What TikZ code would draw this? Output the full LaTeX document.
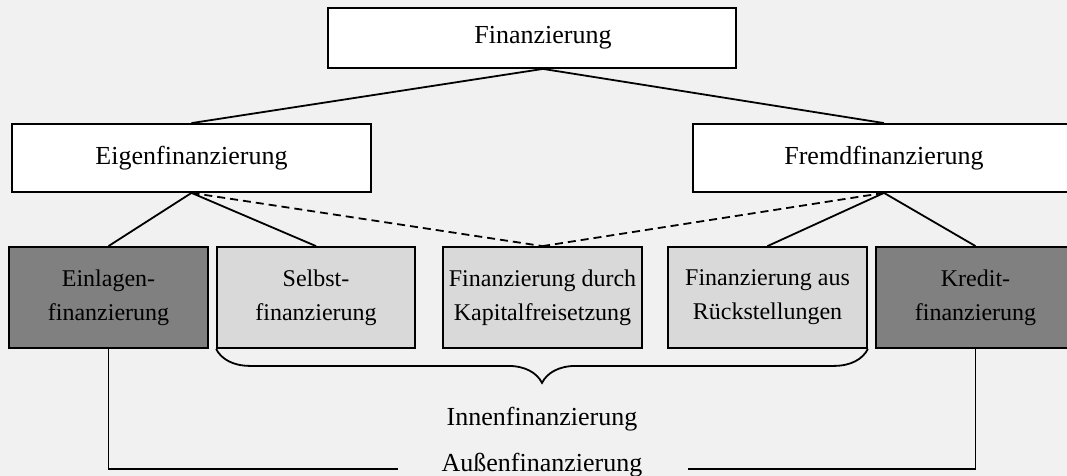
\documentclass[tikz,border=0pt]{standalone}
\usepackage{fontspec}
\setmainfont{Liberation Serif}
\usetikzlibrary{decorations.pathreplacing}
\definecolor{bgc}{HTML}{F1F1F1}
\definecolor{darkbox}{HTML}{808080}
\definecolor{lightbox}{HTML}{D9D9D9}
\begin{document}
\begin{tikzpicture}[x=1pt,y=-1pt,
  box/.style={draw=black, line width=1.8pt, inner sep=0pt, align=center, font=\fontsize{26}{30}\selectfont},
  topbox/.style={box, fill=white, minimum height=68pt},
  lowbox/.style={box, minimum width=199pt, minimum height=101pt, font=\fontsize{24}{34}\selectfont},
  darkfill/.style={lowbox, fill=darkbox},
  lightfill/.style={lowbox, fill=lightbox},
  conn/.style={line width=1.8pt},
  dconn/.style={line width=1.8pt, dash pattern=on 8pt off 5pt},
  lbl/.style={inner sep=0pt, anchor=base, font=\fontsize{26}{30}\selectfont}]
\useasboundingbox (0,0) rectangle (1067,476);
\clip (0,0) rectangle (1067,476);
\fill[bgc] (0,0) rectangle (1067,476);
% top
\node[box, fill=white, minimum width=408pt, minimum height=60pt] (fin) at (532,38) {\hspace*{22pt}Finanzierung};
% second row
\node[topbox, minimum width=359pt] (eigen) at (191.5,158) {Eigenfinanzierung};
\node[topbox, minimum width=382pt] (fremd) at (884,158) {Fremdfinanzierung};
% bottom row
\node[darkfill] (einl) at (108.5,297.5) {Einlagen-\\finanzierung};
\node[lightfill, minimum width=198pt] (selbst) at (316,297.5) {Selbst-\\finanzierung};
\node[lightfill] (kap) at (542.5,297.5) {Finanzierung durch\\Kapitalfreisetzung};
\node[lightfill] (rueck) at (767.5,297.5) {Finanzierung aus\\Rückstellungen};
\node[darkfill] (kredit) at (975.5,297.5) {Kredit-\\finanzierung};
% labels
\node[lbl] (innen) at (542,425) {Innenfinanzierung};
\node[lbl] (aussen) at (542,471) {Außenfinanzierung};
\coordinate (al) at (398,469);
\coordinate (ar) at (688,469);
% connectors
\draw[conn] ([xshift=11pt]fin.south) -- (eigen.north);
\draw[conn] ([xshift=11pt]fin.south) -- (fremd.north);
\draw[conn] (eigen.south) -- (einl.north);
\draw[conn] (eigen.south) -- (selbst.north);
\draw[conn] (fremd.south) -- (rueck.north);
\draw[conn] (fremd.south) -- (kredit.north);
\draw[dconn] (eigen.south) -- (kap.north);
\draw[dconn] (fremd.south) -- (kap.north);
\draw[conn, decorate, decoration={brace, mirror, amplitude=34pt}] (selbst.south west) -- (rueck.south east);
\draw[conn] (einl.south) |- (al);
\draw[conn] (kredit.south) |- (ar);
\end{tikzpicture}
\end{document}
